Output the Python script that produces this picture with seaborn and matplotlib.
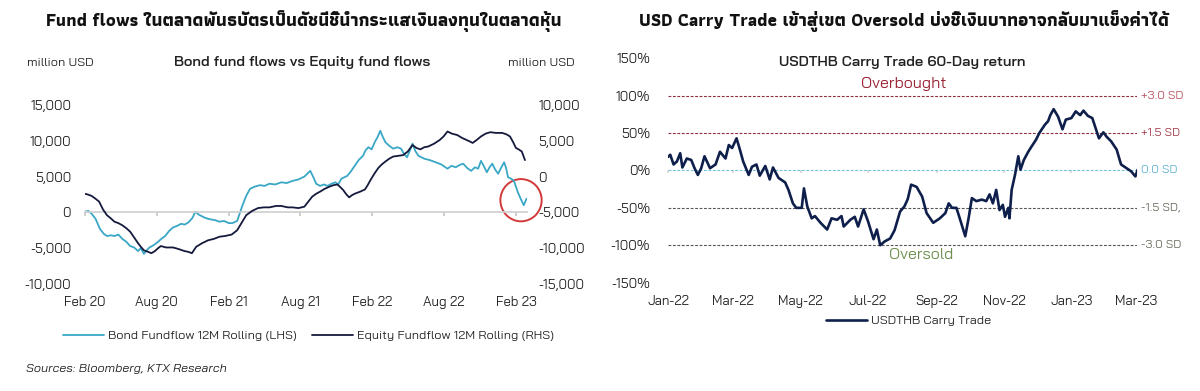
import pandas as pd
import matplotlib
matplotlib.use("Agg")
import matplotlib.pyplot as plt
import matplotlib.dates as mdates
from matplotlib.patches import Ellipse
from matplotlib.ticker import FuncFormatter
import seaborn as sns

# ---------- data: left chart (million USD, 12M rolling) ----------
bond_dates = ["2020-02-01", "2020-02-10", "2020-02-18", "2020-02-28", "2020-03-10", "2020-03-20",
              "2020-03-28", "2020-04-08", "2020-04-16", "2020-04-26", "2020-05-06", "2020-05-16",
              "2020-05-26", "2020-06-05", "2020-06-15", "2020-06-22", "2020-06-30", "2020-07-07",
              "2020-07-14", "2020-07-24", "2020-08-03", "2020-08-13", "2020-08-23", "2020-09-02",
              "2020-09-12", "2020-09-22", "2020-10-02", "2020-10-12", "2020-10-21", "2020-10-31",
              "2020-11-08", "2020-11-16", "2020-11-30", "2020-12-10", "2020-12-19", "2020-12-29",
              "2021-01-08", "2021-01-20", "2021-02-01", "2021-02-10", "2021-02-22", "2021-03-01",
              "2021-03-07", "2021-03-17", "2021-03-27", "2021-04-08", "2021-04-21", "2021-05-03",
              "2021-05-15", "2021-05-30", "2021-06-14", "2021-06-28", "2021-07-13", "2021-07-28",
              "2021-08-12", "2021-08-27", "2021-09-04", "2021-09-11", "2021-09-21", "2021-10-01",
              "2021-10-10", "2021-10-20", "2021-10-30", "2021-11-06", "2021-11-14", "2021-11-29",
              "2021-12-08", "2021-12-18", "2021-12-28", "2022-01-08", "2022-01-15", "2022-01-22",
              "2022-01-30", "2022-02-07", "2022-02-14", "2022-02-21", "2022-02-27", "2022-03-06",
              "2022-03-16", "2022-03-26", "2022-04-05", "2022-04-15", "2022-04-22", "2022-04-30",
              "2022-05-07", "2022-05-14", "2022-05-21", "2022-05-29", "2022-06-13", "2022-06-27",
              "2022-07-12", "2022-07-26", "2022-08-11", "2022-08-21", "2022-09-01", "2022-09-10",
              "2022-09-20", "2022-09-30", "2022-10-10", "2022-10-20", "2022-10-28", "2022-11-04",
              "2022-11-12", "2022-11-19", "2022-11-26", "2022-12-03", "2022-12-10", "2022-12-18",
              "2022-12-25", "2023-01-02", "2023-01-07", "2023-01-12", "2023-01-20", "2023-01-27",
              "2023-02-06", "2023-02-14", "2023-02-21", "2023-02-28"]
bond_flow = [100, 200, -200, -900, -2300, -3000,
             -3300, -3200, -3300, -3100, -3700, -4100,
             -4700, -4900, -5400, -5000, -5800, -5300,
             -4900, -4600, -4200, -3700, -3300, -2600,
             -2100, -1900, -1600, -1700, -1400, -800,
             100, -300, -700, -900, -1000, -1100,
             -1300, -1200, -1500, -1500, -1200, -100,
             900, 2300, 3300, 3600, 3800, 3700,
             4000, 3900, 4200, 4100, 4400, 4600,
             5000, 5800, 4900, 4000, 3700, 3900,
             3700, 4000, 4200, 3900, 4700, 5100,
             5700, 6500, 7300, 7900, 8700, 9100,
             8800, 9800, 10500, 11400, 10600, 9800,
             9300, 8900, 9100, 8900, 8200, 7700,
             8600, 9600, 8600, 7900, 7500, 7300,
             7000, 6700, 6100, 6500, 6300, 6600,
             6800, 6200, 5800, 6300, 6100, 7200,
             6400, 5600, 6300, 6800, 6000, 5400,
             6200, 7000, 6200, 4900, 4700, 4400,
             2800, 1800, 1000, 1900]

equity_dates = ["2020-02-01", "2020-02-08", "2020-02-18", "2020-02-28", "2020-03-08", "2020-03-18",
                "2020-03-28", "2020-04-06", "2020-04-16", "2020-04-26", "2020-05-06", "2020-05-16",
                "2020-05-26", "2020-06-05", "2020-06-15", "2020-06-22", "2020-06-30", "2020-07-10",
                "2020-07-19", "2020-07-28", "2020-08-05", "2020-08-12", "2020-08-25", "2020-09-12",
                "2020-09-25", "2020-10-11", "2020-10-20", "2020-10-30", "2020-11-05", "2020-11-10",
                "2020-11-25", "2020-12-10", "2020-12-25", "2021-01-08", "2021-01-22", "2021-02-08",
                "2021-02-22", "2021-03-05", "2021-03-17", "2021-04-01", "2021-04-16", "2021-05-01",
                "2021-05-15", "2021-06-01", "2021-06-14", "2021-07-01", "2021-07-13", "2021-07-28",
                "2021-08-12", "2021-08-22", "2021-09-01", "2021-09-11", "2021-09-21", "2021-10-03",
                "2021-10-15", "2021-10-25", "2021-11-04", "2021-11-12", "2021-11-19", "2021-11-27",
                "2021-12-04", "2021-12-11", "2021-12-18", "2022-01-01", "2022-01-13", "2022-01-20",
                "2022-01-27", "2022-02-06", "2022-02-16", "2022-02-25", "2022-03-06", "2022-03-16",
                "2022-03-26", "2022-04-08", "2022-04-20", "2022-05-02", "2022-05-14", "2022-05-24",
                "2022-06-03", "2022-06-13", "2022-06-23", "2022-07-08", "2022-07-22", "2022-08-01",
                "2022-08-11", "2022-08-22", "2022-09-05", "2022-09-17", "2022-09-29", "2022-10-07",
                "2022-10-14", "2022-10-24", "2022-11-04", "2022-11-16", "2022-11-28", "2022-12-12",
                "2022-12-28", "2023-01-08", "2023-01-17", "2023-01-25", "2023-02-01", "2023-02-08",
                "2023-02-16", "2023-02-24"]
equity_flow = [-2400, -2500, -2700, -3100, -3500, -4600,
               -5400, -5800, -6300, -6500, -6800, -7200,
               -7700, -8500, -9300, -9800, -10300, -10500,
               -10700, -10400, -10000, -9700, -9900, -9900,
               -10100, -10400, -10500, -10700, -10200, -9800,
               -9300, -8900, -8700, -8400, -8300, -8100,
               -7500, -6500, -5400, -4800, -4400, -4300,
               -4300, -4100, -4100, -4300, -4300, -4400,
               -4200, -3500, -2800, -2400, -2100, -1700,
               -1400, -1200, -1100, -1500, -1900, -2500,
               -2900, -2600, -2400, -2100, -1800, -1200,
               -500, 400, 1200, 1700, 2100, 2500,
               2800, 2900, 3000, 3500, 4400, 4000,
               3800, 4100, 4200, 4600, 5100, 5600,
               6300, 6000, 5800, 5400, 5100, 4900,
               4700, 5100, 5600, 6000, 6200, 6100,
               6100, 5900, 5600, 4800, 4000, 3800,
               3500, 2300]

# ---------- data: right chart (USDTHB carry trade 60-day return, %) ----------
carry_start = "2022-01-01"
carry_day = [0, 2, 5, 8, 11, 13, 17, 21, 24, 27, 30, 33, 38, 43, 47, 52, 55, 58, 62, 65,
             68, 73, 76, 80, 83, 88, 92, 95, 100, 106, 109, 113, 116, 121, 123, 126, 130, 133, 138, 144,
             148, 153, 157, 159, 165, 169, 172, 177, 181, 186, 189, 192, 196, 201, 205, 210, 214, 217, 220, 225,
             230, 234, 240, 246, 251, 254, 257, 261, 264, 269, 272, 275, 279, 284, 288, 291, 294, 297, 300, 303,
             305, 308, 309, 311, 314, 317, 319, 322, 326, 329, 333, 336, 341, 344, 346, 349, 353, 357, 360, 365,
             369, 373, 376, 380, 384, 386, 390, 394, 397, 401, 406, 410, 415, 419, 423, 425]
carry_ret = [18, 21, 8, 12, 23, 4, 16, 14, 3, -6, 3, 19, 3, 8, 25, 16, 34, 30, 43, 28,
             12, -6, 5, 8, -7, 6, -12, 4, -10, -16, -26, -44, -50, -50, -24, -48, -64, -61, -70, -79,
             -64, -66, -61, -75, -66, -62, -75, -52, -68, -92, -79, -100, -95, -91, -80, -55, -48, -38, -19, -22,
             -35, -57, -70, -64, -57, -44, -50, -50, -64, -88, -64, -37, -41, -39, -41, -32, -44, -26, -53, -46,
             -62, -50, -64, -26, -6, 19, 1, 14, 25, 32, 41, 50, 61, 66, 74, 82, 72, 55, 68, 70,
             79, 74, 80, 73, 70, 61, 43, 51, 45, 39, 28, 8, 3, -1, -8, 1]

sd_levels = [100, 50, 0, -50, -100]
sd_labels = ["+3.0 SD", "+1.5 SD", "0.0 SD", "-1.5 SD,", "-3.0 SD"]
sd_line_colors = ["#8e2a3a", "#8e2a3a", "#6fc2da", "#555555", "#555555"]
sd_text_colors = ["#b8505f", "#a33a48", "#5fb3cf", "#6b6b5e", "#6b6b5e"]

bond = pd.DataFrame({"date": pd.to_datetime(bond_dates), "value": bond_flow})
equity = pd.DataFrame({"date": pd.to_datetime(equity_dates), "value": equity_flow})
carry = pd.DataFrame({"date": pd.Timestamp(carry_start) + pd.to_timedelta(carry_day, unit="D"),
                      "value": carry_ret})

sns.set_theme(style="white")
plt.rcParams["font.family"] = ["Bai Jamjuree", "DejaVu Sans"]
TITLE_FONT = ["Athiti", "Bai Jamjuree", "DejaVu Sans"]
TXT = "#222222"

fig = plt.figure(figsize=(12, 3.91), dpi=100)

# ---------- left chart ----------
ax = fig.add_axes([0.0708, 0.2737, 0.3683, 0.4578])
ax2 = ax.twinx()
sns.lineplot(data=bond, x="date", y="value", ax=ax, color="#3aa7c6", lw=1.3,
             label="Bond Fundflow 12M Rolling (LHS)")
sns.lineplot(data=equity, x="date", y="value", ax=ax2, color="#151a3d", lw=1.3,
             label="Equity Fundflow 12M Rolling (RHS)")
h1, l1 = ax.get_legend_handles_labels()
h2, l2 = ax2.get_legend_handles_labels()
ax.get_legend().remove()
ax2.get_legend().remove()

ax.set_xlim(pd.Timestamp("2020-02-01"), pd.Timestamp("2023-03-01"))
ax.set_ylim(-10000, 15000)
ax2.set_ylim(-15000, 10000)
ax.set_yticks(range(-10000, 15001, 5000))
ax2.set_yticks(range(-15000, 10001, 5000))
fmt = FuncFormatter(lambda v, p: f"{v:,.0f}")
ax.yaxis.set_major_formatter(fmt)
ax2.yaxis.set_major_formatter(fmt)
ax.xaxis.set_major_locator(mdates.MonthLocator(bymonth=[2, 8]))
ax.xaxis.set_major_formatter(mdates.DateFormatter("%b %y"))
for a in (ax, ax2):
    a.set_xlabel("")
    a.set_ylabel("")
    for s in a.spines.values():
        s.set_visible(False)
ax.spines["bottom"].set_visible(True)
ax.spines["bottom"].set_position(("data", 0))
ax.spines["bottom"].set_color("#d0d0d0")
ax.tick_params(axis="x", bottom=True, length=3, color="#c8c8c8", pad=57, labelsize=9.5, labelcolor=TXT)
ax.tick_params(axis="y", left=False, pad=4, labelsize=9.5, labelcolor=TXT)
ax2.tick_params(axis="y", right=False, pad=2, labelsize=9.5, labelcolor=TXT)

circle = Ellipse((mdates.date2num(pd.Timestamp("2023-02-14")), 1700), width=105, height=5900,
                 fill=False, edgecolor="#d23a3a", lw=1.4, clip_on=False)
ax.add_patch(circle)

fig.text(0.253, 0.945, "Fund flows ในตลาดพันธบัตรเป็นดัชนีชี้นำกระแสเงินลงทุนในตลาดหุ้น",
         ha="center", va="center", fontsize=13, fontweight="bold", color="#111111",
         family=TITLE_FONT)
fig.text(0.252, 0.84, "Bond fund flows vs Equity fund flows", ha="center", va="center",
         fontsize=10.5, fontweight="semibold", color=TXT)
fig.text(0.050, 0.84, "million USD", ha="center", va="center", fontsize=9, color=TXT)
fig.text(0.451, 0.84, "million USD", ha="center", va="center", fontsize=9, color=TXT)
fig.legend(h1 + h2, l1 + l2, loc="center", bbox_to_anchor=(0.257, 1 - 336 / 391), ncol=2,
           frameon=False, fontsize=9, handlelength=3.3, columnspacing=1.2, handletextpad=0.3,
           labelcolor=TXT)
fig.text(0.022, 1 - 369 / 391, "Sources: Bloomberg, KTX Research", ha="left", va="center",
         fontsize=9, style="italic", color=TXT)

# ---------- right chart ----------
bx = fig.add_axes([0.5567, 0.2772, 0.3904, 0.5737])
for lvl, lab, lc, tc in zip(sd_levels, sd_labels, sd_line_colors, sd_text_colors):
    bx.axhline(lvl, color=lc, lw=0.8, ls=(0, (2.5, 1.5)), zorder=1)
    bx.text(1.01, lvl, lab, transform=bx.get_yaxis_transform(), ha="left", va="center",
            fontsize=8.5, color=tc)
sns.lineplot(data=carry, x="date", y="value", ax=bx, color="#0f1f4b", lw=1.9,
             label="USDTHB Carry Trade", zorder=3)
hc, lc_ = bx.get_legend_handles_labels()
bx.get_legend().remove()

bx.set_xlim(pd.Timestamp("2022-01-01"), pd.Timestamp("2023-03-01"))
bx.set_ylim(-150, 150)
bx.set_yticks(range(-150, 151, 50))
bx.yaxis.set_major_formatter(FuncFormatter(lambda v, p: f"{v:.0f}%"))
bx.xaxis.set_major_locator(mdates.MonthLocator(bymonth=[1, 3, 5, 7, 9, 11]))
bx.xaxis.set_major_formatter(mdates.DateFormatter("%b-%y"))
bx.set_xlabel("")
bx.set_ylabel("")
for s in bx.spines.values():
    s.set_visible(False)
bx.spines["bottom"].set_position(("data", 0))
bx.tick_params(axis="x", bottom=True, length=2, color="#d8d8d8", pad=88, labelsize=9.5, labelcolor=TXT)
bx.tick_params(axis="y", left=False, pad=7, labelsize=9.5, labelcolor=TXT)

bx.text(pd.Timestamp("2022-08-02"), 115, "Overbought", ha="center", va="center",
        fontsize=11.5, color="#9b2437")
bx.text(pd.Timestamp("2022-08-18"), -113, "Oversold", ha="center", va="center",
        fontsize=11.5, color="#6e8f4f")

fig.text(0.753, 0.945, "USD Carry Trade เข้าสู่เขต Oversold บ่งชี้เงินบาทอาจกลับมาแข็งค่าได้",
         ha="center", va="center", fontsize=13, fontweight="bold", color="#111111",
         family=TITLE_FONT)
fig.text(0.752, 0.84, "USDTHB Carry Trade 60-Day return", ha="center", va="center",
         fontsize=10.5, fontweight="semibold", color=TXT)
fig.legend(hc, lc_, loc="center", bbox_to_anchor=(0.757, 1 - 321 / 391), frameon=False,
           fontsize=9, handlelength=3.3, handletextpad=0.3, labelcolor=TXT)

fig.savefig("out.png", dpi=100, facecolor="white")
